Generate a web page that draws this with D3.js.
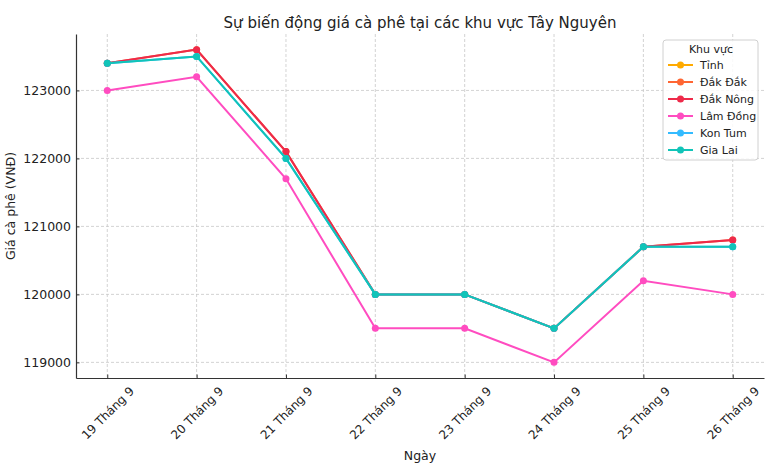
<!DOCTYPE html>
<html>
<head>
<meta charset="utf-8">
<script src="https://cdn.jsdelivr.net/npm/d3@7"></script>
<style>
  body { margin: 0; background: #fff; }
  text { font-family: "DejaVu Sans", sans-serif; fill: #222; }
</style>
</head>
<body>
<div id="chart"></div>
<script>
const dates = ["19 Tháng 9", "20 Tháng 9", "21 Tháng 9", "22 Tháng 9", "23 Tháng 9", "24 Tháng 9", "25 Tháng 9", "26 Tháng 9"];
const regions = ["Tỉnh", "Đắk Đắk", "Đắk Nông", "Lâm Đồng", "Kon Tum", "Gia Lai"];
const colors = ["#ffaa00", "#ff6633", "#ee2a4a", "#ff4cc0", "#33bbff", "#11c4b8"];
const tinh = [];
const dakDak = [123400, 123600, 122100, 120000, 120000, 119500, 120700, 120800];
const dakNong = [123400, 123600, 122100, 120000, 120000, 119500, 120700, 120800];
const lamDong = [123000, 123200, 121700, 119500, 119500, 119000, 120200, 120000];
const konTum = [123400, 123500, 122000, 120000, 120000, 119500, 120700, 120700];
const giaLai = [123400, 123500, 122000, 120000, 120000, 119500, 120700, 120700];
const yTicks = [119000, 120000, 121000, 122000, 123000];

const seriesValues = [tinh, dakDak, dakNong, lamDong, konTum, giaLai];

const width = 770, height = 468;
const margin = { top: 34, right: 6, bottom: 90, left: 76 };

const svg = d3.select("#chart").append("svg").attr("width", width).attr("height", height);

const x = d3.scaleLinear().domain([-0.35, dates.length - 1 + 0.35]).range([margin.left, width - margin.right]);
const y = d3.scaleLinear().domain([118770, 123830]).range([height - margin.bottom, margin.top]);

// grid
svg.append("g")
  .selectAll("line.gx")
  .data(dates)
  .join("line")
  .attr("x1", (d, i) => x(i)).attr("x2", (d, i) => x(i))
  .attr("y1", margin.top).attr("y2", height - margin.bottom)
  .attr("stroke", "#c8c8c8").attr("stroke-dasharray", "3,2").attr("stroke-width", 0.8);
svg.append("g")
  .selectAll("line.gy")
  .data(yTicks)
  .join("line")
  .attr("x1", margin.left).attr("x2", width - margin.right)
  .attr("y1", (d) => y(d)).attr("y2", (d) => y(d))
  .attr("stroke", "#c8c8c8").attr("stroke-dasharray", "3,2").attr("stroke-width", 0.8);

// axes
const xAxis = svg.append("g")
  .attr("transform", `translate(0,${height - margin.bottom})`)
  .call(d3.axisBottom(x).tickValues(d3.range(dates.length)).tickFormat((i) => dates[i]).tickSizeInner(-3.5).tickSizeOuter(0));
xAxis.select(".domain").attr("stroke", "#333").attr("stroke-width", 1.2);
xAxis.selectAll(".tick line").attr("stroke", "#333");
// rotated labels centred under each tick
xAxis.selectAll("text")
  .attr("font-size", 12)
  .attr("text-anchor", "middle")
  .attr("y", 0)
  .attr("dy", "0.35em")
  .attr("transform", "translate(0,35) rotate(-45)");

const yAxis = svg.append("g")
  .attr("transform", `translate(${margin.left},0)`)
  .call(d3.axisLeft(y).tickValues(yTicks).tickFormat(d3.format("d")).tickSizeInner(-3.5).tickSizeOuter(0).tickPadding(5));
yAxis.select(".domain").attr("stroke", "#333").attr("stroke-width", 1.2);
yAxis.selectAll(".tick line").attr("stroke", "#333");
yAxis.selectAll("text").attr("font-size", 12.5);

// labels
svg.append("text").attr("x", (margin.left + width - margin.right) / 2).attr("y", 28)
  .attr("text-anchor", "middle").attr("font-size", 15).text("Sự biến động giá cà phê tại các khu vực Tây Nguyên");
svg.append("text").attr("x", (margin.left + width - margin.right) / 2).attr("y", 460)
  .attr("text-anchor", "middle").attr("font-size", 12.5).text("Ngày");
svg.append("text")
  .attr("transform", `translate(15,${(margin.top + height - margin.bottom) / 2}) rotate(-90)`)
  .attr("text-anchor", "middle").attr("font-size", 12.5).text("Giá cà phê (VNĐ)");

// lines
const line = d3.line().x((d, i) => x(i)).y((d) => y(d));
regions.forEach((name, k) => {
  const vals = seriesValues[k];
  if (!vals.length) return;
  const g = svg.append("g");
  g.append("path").datum(vals).attr("d", line).attr("fill", "none")
    .attr("stroke", colors[k]).attr("stroke-width", 2);
  g.selectAll("circle").data(vals).join("circle")
    .attr("cx", (d, i) => x(i)).attr("cy", (d) => y(d)).attr("r", 3.5).attr("fill", colors[k]);
});

// legend
const lg = svg.append("g").attr("transform", "translate(663,40)");
lg.append("rect").attr("width", 95).attr("height", 120).attr("rx", 3)
  .attr("fill", "white").attr("fill-opacity", 0.85).attr("stroke", "#d0d0d0");
lg.append("text").attr("x", 48).attr("y", 13).attr("text-anchor", "middle").attr("font-size", 11).text("Khu vực");
const items = lg.selectAll("g.item").data(regions).join("g")
  .attr("transform", (d, i) => `translate(0,${25 + i * 17})`);
items.append("line").attr("x1", 5).attr("x2", 30).attr("stroke", (d, i) => colors[i]).attr("stroke-width", 2);
items.append("circle").attr("cx", 17.5).attr("r", 3.5).attr("fill", (d, i) => colors[i]);
items.append("text").attr("x", 37).attr("dy", "0.35em").attr("font-size", 11).text((d) => d);
</script>
</body>
</html>
